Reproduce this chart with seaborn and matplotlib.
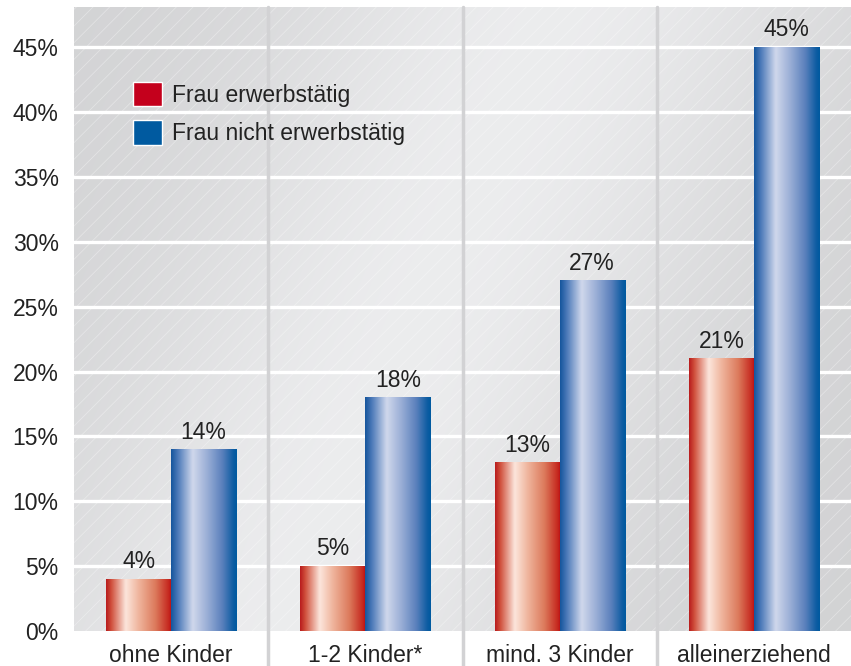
import numpy as np
import pandas as pd
import matplotlib
matplotlib.use("Agg")
import matplotlib.pyplot as plt
from matplotlib.colors import LinearSegmentedColormap
from matplotlib.patches import Rectangle
import seaborn as sns

# Data
categories = ["ohne Kinder", "1-2 Kinder*", "mind. 3 Kinder", "alleinerziehend"]
series_names = ["Frau erwerbstätig", "Frau nicht erwerbstätig"]
erwerbstaetig = [4, 5, 13, 21]
nicht_erwerbstaetig = [14, 18, 27, 45]
y_ticks = [0, 5, 10, 15, 20, 25, 30, 35, 40, 45]

df = pd.DataFrame({
    "Gruppe": categories * 2,
    "Status": [series_names[0]] * 4 + [series_names[1]] * 4,
    "Anteil": erwerbstaetig + nicht_erwerbstaetig,
})

sns.set_theme(style="white")
plt.rcParams["font.family"] = ["Liberation Sans", "DejaVu Sans"]

W, H = 851, 666
fig = plt.figure(figsize=(W / 100, H / 100), dpi=100)
fig.patch.set_facecolor("white")
ax = fig.add_axes([74 / W, (H - 631) / H, 777 / W, 624 / H])

solid = {series_names[0]: "#c4001c", series_names[1]: "#005aa0"}
sns.barplot(data=df, x="Gruppe", y="Anteil", hue="Status", order=categories,
            hue_order=series_names, palette=solid, width=0.67, gap=0,
            saturation=1, ax=ax, legend=True, zorder=3)

ax.set_xlim(-0.5, 3.5)
ax.set_ylim(0, 48.1)

# Grey backdrop with a soft diagonal light band
gx, gy = np.meshgrid(np.linspace(0, 1, 400), np.linspace(0, 1, 300))
u = gx + 0.35 * (1 - gy)
shade = 0.83 + 0.10 * np.exp(-((u - 0.62) / 0.35) ** 2)
shade = np.clip(shade, 0, 1)
bg = np.dstack([shade - 0.005, shade - 0.003, shade + 0.003])
ax.imshow(np.clip(bg, 0, 1), extent=[-0.5, 3.5, 0, 48.1], aspect="auto",
          origin="lower", zorder=0)
plt.rcParams["hatch.linewidth"] = 0.6
ax.add_patch(Rectangle((-0.5, 0), 4, 48.1, facecolor="none",
                       edgecolor=(1, 1, 1, 0.35), hatch="//", linewidth=0,
                       zorder=0.5))

# Horizontal white grid
for t in y_ticks[1:]:
    ax.axhline(t, color="white", linewidth=2.4, zorder=1)

# Group separators reaching into the label band
for xs in [0.5, 1.5, 2.5]:
    ax.plot([xs, xs], [-0.057, 1.0], transform=ax.get_xaxis_transform(),
            color="#d2d2d4", linewidth=2.5, clip_on=False, zorder=1.5)

# Cylindrical gradient fills
red_cmap = LinearSegmentedColormap.from_list("rot", [
    (0.0, "#b81a1c"), (0.08, "#d0503c"), (0.30, "#fce6dc"),
    (0.50, "#efb49c"), (0.75, "#dc7a5c"), (0.95, "#c62a20"), (1.0, "#b80c14")])
blue_cmap = LinearSegmentedColormap.from_list("blau", [
    (0.0, "#14559c"), (0.10, "#4a78b8"), (0.33, "#d0d8ec"),
    (0.55, "#9aaed6"), (0.78, "#5a80bc"), (0.95, "#0c5ca2"), (1.0, "#005aa0")])
grad = np.linspace(0, 1, 256).reshape(1, -1)

n = len(categories)
bars = [p for p in ax.patches
        if isinstance(p, Rectangle) and p.get_height() > 0 and p.get_width() < 1]
for i, patch in enumerate(bars):
    x0, w, h = patch.get_x(), patch.get_width(), patch.get_height()
    cmap = red_cmap if i < n else blue_cmap
    ax.imshow(grad, cmap=cmap, extent=[x0, x0 + w, 0, h], aspect="auto",
              zorder=3.5, interpolation="bicubic")
    patch.set_visible(False)
    ax.text(x0 + w / 2, h + 0.45, f"{h:.0f}%", ha="center", va="bottom",
            fontsize=16.5, color="#222222", zorder=5)

ax.set_xlim(-0.5, 3.5)
ax.set_ylim(0, 48.1)

ax.set_yticks(y_ticks)
ax.set_yticklabels([f"{t}%" for t in y_ticks], fontsize=16.5, color="#222222")
ax.set_xticks(range(n))
ax.set_xticklabels(categories, fontsize=16.5, color="#222222")
ax.tick_params(axis="x", length=0, pad=9)
ax.tick_params(axis="y", length=0, pad=11)
ax.set_xlabel("")
ax.set_ylabel("")
for s in ax.spines.values():
    s.set_visible(False)

leg = ax.legend(loc="upper left", bbox_to_anchor=(0.076, 0.88), frameon=False,
                fontsize=16.5, handlelength=1.25, handleheight=1.25,
                handletextpad=0.45, labelspacing=0.6, borderaxespad=0,
                borderpad=0)
for t in leg.get_texts():
    t.set_color("#222222")

fig.savefig("out.png", dpi=100, facecolor="white")
